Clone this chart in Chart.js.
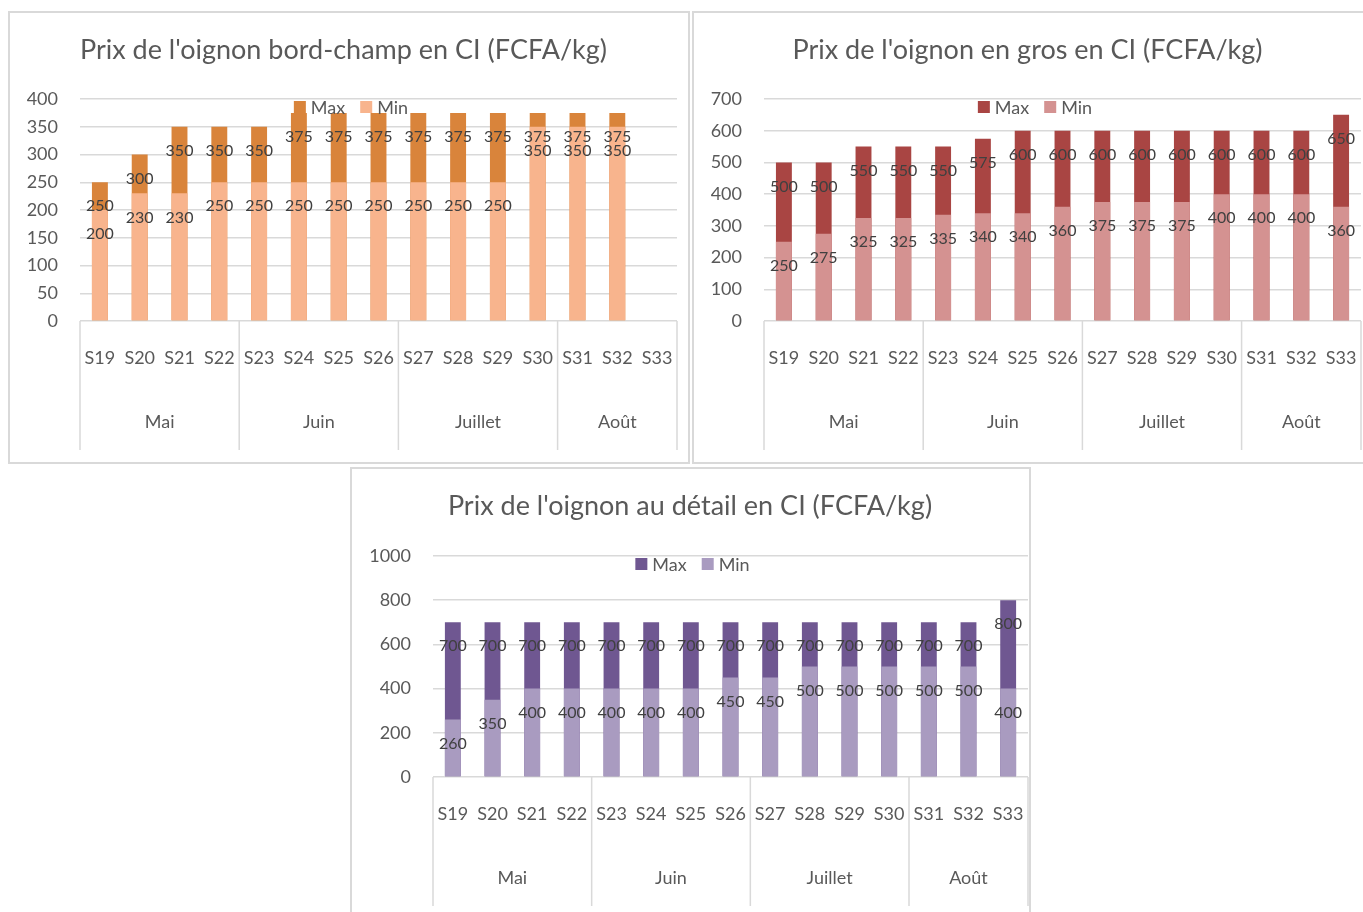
<!DOCTYPE html>
<html>
<head>
<meta charset="utf-8">
<script src="https://cdn.jsdelivr.net/npm/chart.js@4.4.1/dist/chart.umd.min.js"></script>
<style>
  body { margin: 0; background: #fff; width: 1363px; height: 912px; overflow: hidden; position: relative; }
  .frame { position: absolute; border: 2px solid #d9d9d9; background: #fff; }
</style>
</head>
<body>
<div class="frame" style="left:8px;top:11px;width:678px;height:449px"><canvas id="c1"></canvas></div>
<div class="frame" style="left:692px;top:11px;width:678px;height:449px"><canvas id="c2"></canvas></div>
<div class="frame" style="left:350px;top:467px;width:677px;height:449px"><canvas id="c3"></canvas></div>
<script>
var weeks = ["S19", "S20", "S21", "S22", "S23", "S24", "S25", "S26", "S27", "S28", "S29", "S30", "S31", "S32", "S33"];
var months = ["Mai", "Juin", "Juillet", "Août"];
var monthSizes = [4, 4, 4, 3];

// bord-champ
var bordChampMax = [250, 300, 350, 350, 350, 375, 375, 375, 375, 375, 375, 375, 375, 375, null];
var bordChampMin = [200, 230, 230, 250, 250, 250, 250, 250, 250, 250, 250, 350, 350, 350, null];
var bordChampTicks = [0, 400, 50];

// gros
var grosMax = [500, 500, 550, 550, 550, 575, 600, 600, 600, 600, 600, 600, 600, 600, 650];
var grosMin = [250, 275, 325, 325, 335, 340, 340, 360, 375, 375, 375, 400, 400, 400, 360];
var grosTicks = [0, 700, 100];

// detail
var detailMax = [700, 700, 700, 700, 700, 700, 700, 700, 700, 700, 700, 700, 700, 700, 800];
var detailMin = [260, 350, 400, 400, 400, 400, 400, 450, 450, 500, 500, 500, 500, 500, 400];
var detailTicks = [0, 1000, 200];

Chart.defaults.font.family = "Lato";
Chart.defaults.color = "#595959";

var valueLabels = {
  id: "valueLabels",
  afterDatasetsDraw: function (chart) {
    var ctx = chart.ctx;
    ctx.save();
    ctx.font = "16px Lato";
    ctx.fillStyle = "#404040";
    ctx.textAlign = "center";
    ctx.textBaseline = "middle";
    chart.data.datasets.forEach(function (ds, i) {
      chart.getDatasetMeta(i).data.forEach(function (bar, j) {
        if (ds.data[j] == null) return;
        ctx.fillText(ds.data[j], bar.x, bar.y + 24);
      });
    });
    ctx.restore();
  }
};

// excel style legend sitting inside the plot
var topLegend = {
  id: "topLegend",
  afterDraw: function (chart) {
    var ctx = chart.ctx;
    var sets = chart.data.datasets;
    ctx.save();
    ctx.font = "18px Lato";
    ctx.textBaseline = "middle";
    var widths = sets.map(function (d) { return 17 + ctx.measureText(d.label).width; });
    var total = widths.reduce(function (a, b) { return a + b; }, 0) + 15 * (sets.length - 1);
    var x = chart.width / 2 + 2 - total / 2;
    var y = chart.chartArea.top + 8;
    sets.forEach(function (d, i) {
      ctx.fillStyle = d.backgroundColor;
      ctx.fillRect(x, y - 6, 12, 12);
      ctx.fillStyle = "#595959";
      ctx.fillText(d.label, x + 17, y + 1);
      x += widths[i] + 15;
    });
    ctx.restore();
  }
};

// second row of the category axis (months)
var monthAxis = {
  id: "monthAxis",
  afterDraw: function (chart) {
    var ctx = chart.ctx, xs = chart.scales.x, area = chart.chartArea;
    var half = (xs.getPixelForValue(1) - xs.getPixelForValue(0)) / 2;
    var start = 0;
    ctx.save();
    ctx.strokeStyle = "#d9d9d9";
    ctx.lineWidth = 1.5;
    ctx.font = "18px Lato";
    ctx.fillStyle = "#595959";
    ctx.textAlign = "center";
    ctx.textBaseline = "middle";
    months.forEach(function (m, i) {
      var end = start + monthSizes[i] - 1;
      var left = xs.getPixelForValue(start) - half;
      var right = xs.getPixelForValue(end) + half;
      ctx.beginPath();
      ctx.moveTo(left, area.bottom);
      ctx.lineTo(left, area.bottom + 129);
      if (i == months.length - 1) {
        ctx.moveTo(right, area.bottom);
        ctx.lineTo(right, area.bottom + 129);
      }
      ctx.stroke();
      ctx.fillText(m, (left + right) / 2, area.bottom + 101);
      start = end + 1;
    });
    ctx.restore();
  }
};

function makeChart(id, title, max, min, ticks, colors, box) {
  return new Chart(document.getElementById(id), {
    type: "bar",
    data: {
      labels: weeks,
      datasets: [
        { label: "Max", data: max, backgroundColor: colors[0], order: 1 },
        { label: "Min", data: min, backgroundColor: colors[1], order: 0 }
      ]
    },
    plugins: [valueLabels, topLegend, monthAxis],
    options: {
      responsive: true,
      maintainAspectRatio: false,
      animation: false,
      barPercentage: 0.4,
      categoryPercentage: 1,
      layout: { padding: { left: 0, right: box.right, top: 0, bottom: 0 } },
      plugins: {
        legend: { display: false },
        tooltip: { enabled: false },
        title: {
          display: true,
          text: title,
          color: "#595959",
          font: { size: 27, weight: "normal", lineHeight: 1.2 },
          padding: { top: 20.8, bottom: box.top - 53.2 }
        }
      },
      scales: {
        x: {
          stacked: true,
          // tick marks hidden, tickLength only pushes the labels down
          grid: { display: false, drawTicks: true, tickLength: 26 },
          border: { display: false },
          ticks: { font: { size: 18 }, padding: 0, maxRotation: 0, autoSkip: false },
          afterFit: function (s) { s.height = 141; }
        },
        y: {
          min: ticks[0],
          max: ticks[1],
          grid: { color: "#d9d9d9", lineWidth: 1.5, drawTicks: false },
          border: { display: false },
          ticks: {
            stepSize: ticks[2],
            font: { size: 18 },
            padding: 22,
            callback: function (v) { return String(v); }
          },
          afterFit: function (s) { s.width = box.left; }
        }
      }
    }
  });
}

makeChart("c1", "Prix de l'oignon bord-champ en CI (FCFA/kg)", bordChampMax, bordChampMin, bordChampTicks,
  ["#d9843b", "#f8b48d"], { left: 70, right: 11, top: 86 });
makeChart("c2", "Prix de l'oignon en gros en CI (FCFA/kg)", grosMax, grosMin, grosTicks,
  ["#a94543", "#d49291"], { left: 70, right: 11, top: 86 });
makeChart("c3", "Prix de l'oignon au détail en CI (FCFA/kg)", detailMax, detailMin, detailTicks,
  ["#6f5791", "#a99bc0"], { left: 81, right: 1, top: 87 });
</script>
</body>
</html>
